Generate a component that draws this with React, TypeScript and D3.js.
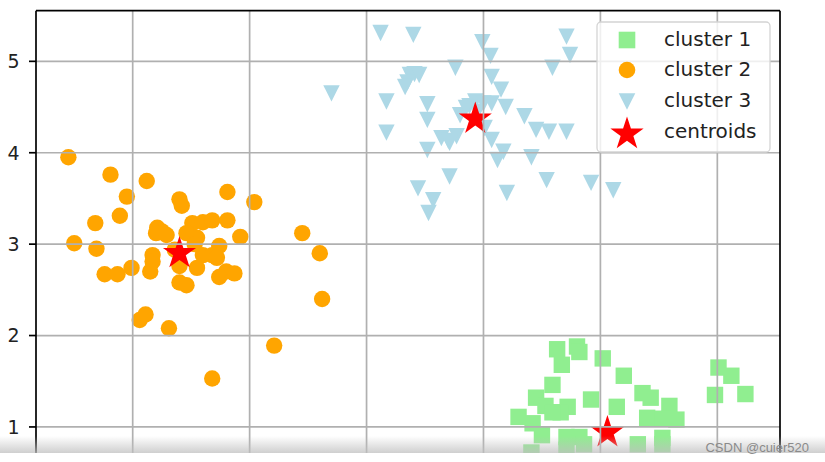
import React from "react";
import * as d3 from "d3";

// ---- data ----
const cluster1X = [1.63, 1.80, 1.82, 2.02, 1.67, 2.20, 1.59, 3.01, 3.12, 2.98, 3.24, 1.45, 1.53, 1.92, 2.36, 2.43, 2.59, 2.14, 1.72, 1.66, 1.30, 1.42, 2.40, 2.53, 2.65, 1.50, 1.71, 1.82, 1.86, 2.32, 2.53, 2.53, 1.41, 1.71, 1.59];
const cluster1Y = [1.85, 1.88, 1.82, 1.75, 1.68, 1.56, 1.46, 1.65, 1.56, 1.35, 1.36, 1.32, 1.23, 1.30, 1.37, 1.32, 1.23, 1.22, 1.22, 1.16, 1.11, 1.04, 1.10, 1.09, 1.08, 0.91, 0.89, 0.89, 0.81, 0.81, 0.88, 0.81, 0.72, 0.75, 1.16];

const cluster2X = [-2.55, -2.19, -1.88, -2.05, -1.60, -1.58, -1.19, -0.96, -2.11, -2.32, -1.79, -1.75, -1.80, -1.49, -1.40, -1.32, -1.19, -1.71, -1.54, -1.45, -1.08, -0.55, -2.50, -2.31, -1.83, -1.83, -1.26, -0.40, -1.40, -1.32, -1.28, -2.01, -2.24, -2.13, -1.85, -1.60, -1.45, -1.20, -1.13, -1.26, -1.60, -1.54, -0.38, -1.94, -1.89, -1.69, -0.79, -1.32, -1.64, -1.47];
const cluster2Y = [3.95, 3.76, 3.69, 3.52, 3.49, 3.42, 3.57, 3.46, 3.31, 3.23, 3.18, 3.14, 3.12, 3.23, 3.24, 3.26, 3.26, 3.10, 3.12, 3.07, 3.08, 3.12, 3.01, 2.95, 2.88, 2.81, 2.98, 2.90, 2.88, 2.88, 2.85, 2.74, 2.67, 2.67, 2.70, 2.76, 2.74, 2.70, 2.68, 2.64, 2.58, 2.55, 2.40, 2.17, 2.23, 2.08, 1.89, 1.53, 2.94, 3.00];

const cluster3X = [0.12, 0.40, 0.99, 1.71, 1.06, 1.74, 0.76, 1.59, 0.37, 0.41, 0.35, 0.33, 0.45, 1.07, 1.15, -0.30, 0.17, 0.52, 0.93, 1.00, 1.07, 1.19, 0.88, 0.80, 0.52, 1.35, 1.45, 1.56, 1.71, 0.17, 1.01, 0.64, 0.70, 0.77, 0.71, 1.07, 0.52, 1.17, 1.12, 1.41, 0.71, 1.54, 0.44, 1.92, 2.11, 1.20, 0.57, 0.53, 0.95, 0.85];
const cluster3Y = [5.31, 5.29, 5.21, 5.27, 5.06, 5.07, 4.93, 4.93, 4.85, 4.86, 4.77, 4.72, 4.85, 4.83, 4.69, 4.65, 4.56, 4.53, 4.56, 4.54, 4.54, 4.50, 4.51, 4.41, 4.36, 4.40, 4.25, 4.23, 4.23, 4.22, 4.27, 4.16, 4.13, 4.18, 4.11, 4.14, 4.03, 4.01, 3.92, 3.95, 3.74, 3.70, 3.61, 3.67, 3.59, 3.56, 3.48, 3.34, 4.45, 4.49];

const centroidX = [2.06, -1.60, 0.93];
const centroidY = [0.94, 2.90, 4.37];

const yTicks = [1, 2, 3, 4, 5];
const xGrid = [-2, -1, 0, 1, 2, 3];
const legendLabels = ["cluster 1", "cluster 2", "cluster 3", "centroids"];

const COLORS = { c1: "#90EE90", c2: "#FFA500", c3: "#ADD8E6", cent: "#FF0000" };

const W = 825;
const H = 462;
const LEFT = 36;
const RIGHT = 780;
const TOP = 10.7;
const BOTTOM = 600.6;

const x = d3.scaleLinear().domain([-2.827, 3.536]).range([LEFT, RIGHT]);
const y = d3.scaleLinear().domain([-0.9, 5.554]).range([BOTTOM, TOP]);

const starPath = (r: number) => d3.symbol(d3.symbolStar, (r * r) / 0.8908130915292852)()!;
const triPath = (h: number) => `M${-h},${-h}L${h},${-h}L0,${h}Z`;

export default function App() {
  const font = "'DejaVu Sans', sans-serif";
  const c1 = cluster1X.map((v, i) => [v, cluster1Y[i]]);
  const c2 = cluster2X.map((v, i) => [v, cluster2Y[i]]);
  const c3 = cluster3X.map((v, i) => [v, cluster3Y[i]]);
  const cents = centroidX.map((v, i) => [v, centroidY[i]]);
  const legendRows = [46, 76, 107, 138];
  const legendMarkY = [40, 70, 101.5, 134];
  const LX = 627;

  return (
    <svg width={W} height={H} style={{ position: "absolute", left: 0, top: 0, background: "#fff" }}>
      <defs>
        <clipPath id="plotClip">
          <rect x={LEFT} y={TOP} width={RIGHT - LEFT} height={BOTTOM - TOP} />
        </clipPath>
        <linearGradient id="fade" x1="0" y1="0" x2="0" y2="1">
          <stop offset="0" stopColor="#bfbfbf" stopOpacity={0} />
          <stop offset="1" stopColor="#bfbfbf" stopOpacity={0.75} />
        </linearGradient>
      </defs>
      <rect x={0} y={0} width={W} height={H} fill="#fff" />
      <g clipPath="url(#plotClip)">
        {c1.map((d, i) => (
          <rect key={"a" + i} x={x(d[0]) - 8.2} y={y(d[1]) - 8.2} width={16.4} height={16.4} fill={COLORS.c1} />
        ))}
        {c2.map((d, i) => (
          <circle key={"b" + i} cx={x(d[0])} cy={y(d[1])} r={8.2} fill={COLORS.c2} />
        ))}
        {c3.map((d, i) => (
          <path key={"c" + i} d={triPath(8.2)} transform={`translate(${x(d[0])},${y(d[1])})`} fill={COLORS.c3} />
        ))}
        {cents.map((d, i) => (
          <path key={"s" + i} d={starPath(17.4)} transform={`translate(${x(d[0])},${y(d[1])})`} fill={COLORS.cent} />
        ))}
        {xGrid.map((v) => (
          <line key={"gx" + v} x1={x(v)} x2={x(v)} y1={TOP} y2={BOTTOM} stroke="#b0b0b0" strokeWidth={1.7} />
        ))}
        {yTicks.map((v) => (
          <line key={"gy" + v} x1={LEFT} x2={RIGHT} y1={y(v)} y2={y(v)} stroke="#b0b0b0" strokeWidth={1.7} />
        ))}
      </g>
      {/* spines */}
      <line x1={LEFT} x2={LEFT} y1={TOP} y2={BOTTOM} stroke="#000" strokeWidth={1.7} />
      <line x1={RIGHT} x2={RIGHT} y1={TOP} y2={BOTTOM} stroke="#000" strokeWidth={1.7} />
      <line x1={LEFT} x2={RIGHT} y1={TOP} y2={TOP} stroke="#000" strokeWidth={1.7} />
      {/* y ticks */}
      {yTicks.map((v) => (
        <g key={"t" + v}>
          <line x1={LEFT - 7} x2={LEFT} y1={y(v)} y2={y(v)} stroke="#000" strokeWidth={1.7} />
          <text x={19.5} y={y(v)} dy="0.36em" textAnchor="end" fontFamily={font} fontSize={19} fill="#222">
            {v}
          </text>
        </g>
      ))}
      {/* legend */}
      <rect x={597} y={22} width={173} height={130} rx={4} fill="#fff" fillOpacity={0.8} stroke="#d4d4d4" strokeWidth={1.3} />
      <rect x={LX - 8.3} y={legendMarkY[0] - 8.3} width={16.6} height={16.6} fill={COLORS.c1} />
      <circle cx={LX} cy={legendMarkY[1]} r={8.3} fill={COLORS.c2} />
      <path d={triPath(8.3)} transform={`translate(${LX},${legendMarkY[2]})`} fill={COLORS.c3} />
      <path d={starPath(17.5)} transform={`translate(${LX},${legendMarkY[3]})`} fill={COLORS.cent} />
      {legendLabels.map((t, i) => (
        <text key={t} x={664} y={legendRows[i]} fontFamily={font} fontSize={20} fill="#222">
          {t}
        </text>
      ))}
      {/* bottom screenshot fade + watermark */}
      <rect x={0} y={436} width={W} height={17} fill="url(#fade)" />
      <rect x={0} y={453} width={W} height={H - 453} fill="#fff" />
      <text x={809} y={452} textAnchor="end" fontFamily="'Liberation Sans', Arial, sans-serif" fontSize={13} fill="#8a8a8a">
        CSDN @cuier520
      </text>
    </svg>
  );
}
